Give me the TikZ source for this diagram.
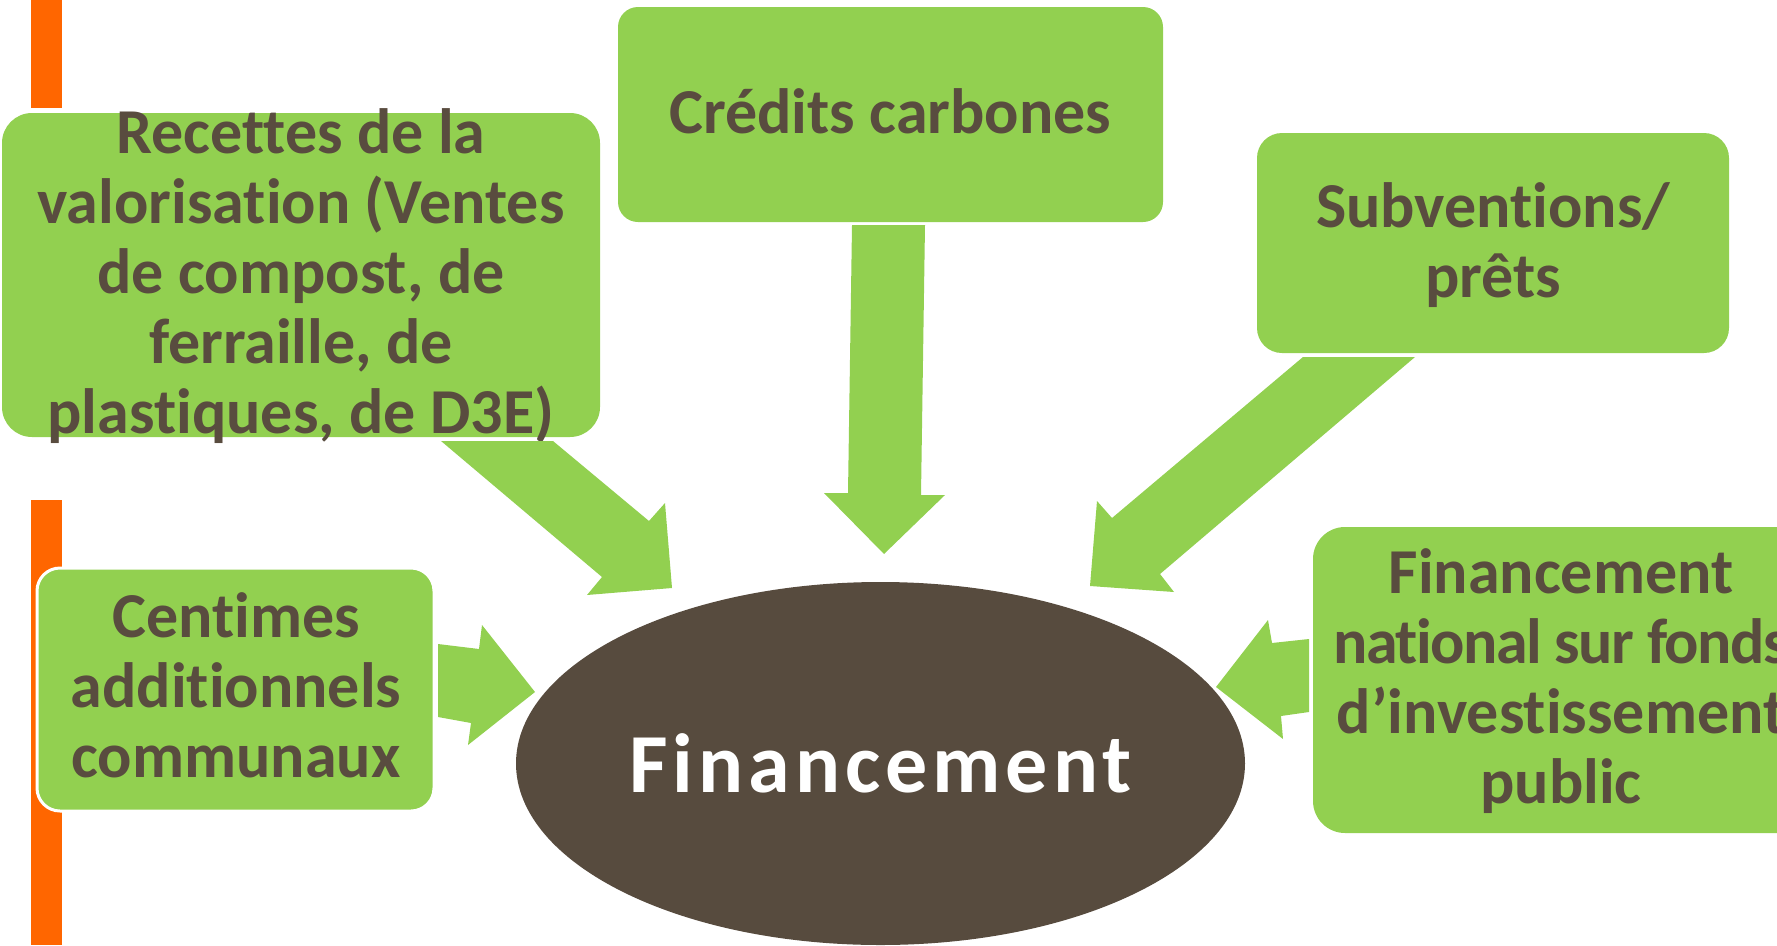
\documentclass[tikz,border=0pt]{standalone}
\usepackage{fontspec}
\setmainfont{Carlito}[Ligatures={NoCommon}]
\usetikzlibrary{shapes.geometric}
\definecolor{boxgreen}{HTML}{92D050}
\definecolor{txtbrown}{HTML}{594C3F}
\definecolor{ovalbrown}{HTML}{574B3E}
\definecolor{barorange}{HTML}{FF6600}
\begin{document}
\begin{tikzpicture}[x=1pt,y=-1pt,
  greenbox/.style={fill=boxgreen, draw=none, rounded corners=#1, inner sep=0pt, outer sep=0pt},
  lbl/.style={font=\fontsize{64}{70}\selectfont\bfseries, text=txtbrown, inner sep=0pt, anchor=base},
  blockarrow/.style={fill=boxgreen, draw=none},
  bar/.style={fill=barorange, draw=none}]
\useasboundingbox (0,0) rectangle (1777,945);
\clip (0,0) rectangle (1777,945);
% orange bars
\fill[bar] (31,0) rectangle (62,108);
\fill[bar] (31,500) rectangle (62,945);
% boxes
\node[greenbox=30pt, minimum width=598pt, minimum height=324pt] (recettes) at (301,275) {};
\node[greenbox=20pt, minimum width=545pt, minimum height=215pt] (credits) at (890.5,114.5) {};
\node[greenbox=25pt, minimum width=472pt, minimum height=220pt] (subv) at (1493,243) {};
\node[greenbox=23pt, draw=white, line width=3pt, minimum width=397pt, minimum height=243pt] (centimes) at (235.5,689.5) {};
\node[greenbox=32pt, minimum width=497pt, minimum height=306pt] (national) at (1561.5,680) {};
% texts
\node[lbl] (recettesT) at (301,153) {\begin{tabular}[t]{@{}c@{}}Recettes de la\\ valorisation (Ventes\\ de compost, de\\ ferraille, de\\ plastiques, de D3E)\end{tabular}};
\node[lbl] (creditsT) at (890.5,133) {Crédits carbones};
\node[lbl] (subvT) at (1493,227) {\begin{tabular}[t]{@{}c@{}}Subventions/\\ prêts\end{tabular}};
\node[lbl] (centimesT) at (236,637) {\begin{tabular}[t]{@{}c@{}}Centimes\\ additionnels\\ communaux\end{tabular}};
\node[lbl] (nationalT) at (1561,593) {\begin{tabular}[t]{@{}c@{}}Financement\\ {\addfontfeature{LetterSpace=-2.5}national sur fonds}\\ d’investissement\\ public\end{tabular}};
% block arrows
\fill[blockarrow] (852,225) -- (925,225) -- (921,495) -- (945,495) -- (884,554) -- (824,493) -- (848,493) -- cycle;
\fill[blockarrow] (441,441) -- (553,441) -- (649,521) -- (665,503) -- (672,588) -- (587,595) -- (602,577) -- cycle;
\fill[blockarrow] (1303,357) -- (1415,357) -- (1160,574) -- (1174,592) -- (1090,586) -- (1097,501) -- (1112,518) -- cycle;
\fill[blockarrow] (438,644) -- (479,649) -- (482,625) -- (535,692) -- (468,745) -- (471,723) -- (438,717) -- cycle;
\fill[blockarrow] (1309,639) -- (1272,643) -- (1268,620) -- (1216,687) -- (1283,739) -- (1281,716) -- (1309,712) -- cycle;
% central ellipse
\node[ellipse, fill=ovalbrown, draw=none, inner sep=0pt, minimum width=729pt, minimum height=363pt,
  font=\fontsize{84}{90}\selectfont\bfseries\addfontfeature{LetterSpace=6}, text=white] (oval) at (880.5,763.5) {Financement};
\end{tikzpicture}
\end{document}
